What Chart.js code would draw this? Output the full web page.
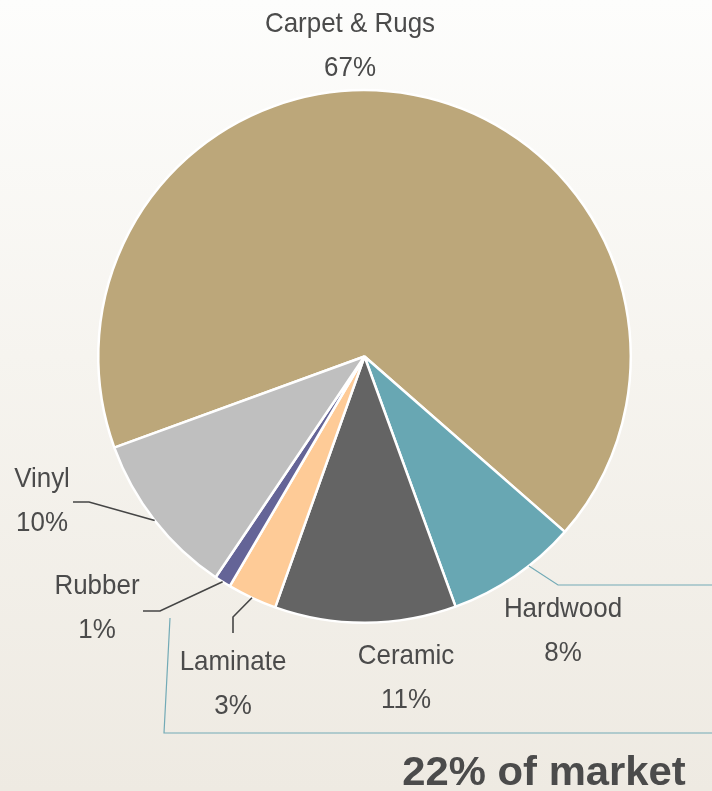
<!DOCTYPE html>
<html>
<head>
<meta charset="utf-8">
<script src="https://cdn.jsdelivr.net/npm/chart.js@4/dist/chart.umd.min.js"></script>
<style>
  html, body { margin: 0; padding: 0; }
  body {
    width: 712px; height: 791px; overflow: hidden;
    background: linear-gradient(to bottom, #fdfdfc 0%, #f6f4ef 45%, #eeeae2 100%);
  }
  #wrap { position: relative; width: 712px; height: 791px; }
</style>
</head>
<body>
<div id="wrap"><canvas id="c" width="712" height="791"></canvas></div>
<script>
// Flooring sales share by material
const categories = ['Carpet & Rugs', 'Hardwood', 'Ceramic', 'Laminate', 'Rubber', 'Vinyl'];
const shares = [67, 8, 11, 3, 1, 10];
const sliceColors = ['#bca77a', '#68a7b3', '#646464', '#fecb97', '#646497', '#bfbfbf'];
const headline = '22% of market';

const LABEL_FONT = '"Liberation Sans Narrow", "Arial Narrow", "Liberation Sans", sans-serif';
const TEXT_COLOR = '#4b4b4b';

// Where each label sits (name baseline; percent goes one line below),
// plus the elbow point of its leader line.
const labelLayout = {
  'Carpet & Rugs': { x: 350, y: 32, leader: null },
  'Hardwood':      { x: 563, y: 617, leader: null },
  'Ceramic':       { x: 406, y: 664, leader: null },
  'Laminate':      { x: 233, y: 670, leader: [[233, 633], [233, 617]] },
  'Rubber':        { x: 97,  y: 594, leader: [[143, 611], [160, 611]] },
  'Vinyl':         { x: 42,  y: 487, leader: [[73, 502], [89, 502]] }
};

function arcPoint(arc, frac) {
  const a = arc.startAngle + (arc.endAngle - arc.startAngle) * frac;
  return [arc.x + Math.cos(a) * arc.outerRadius, arc.y + Math.sin(a) * arc.outerRadius];
}

// condensed text: draw with a slight horizontal squeeze
function narrowText(ctx, text, x, y, squeeze) {
  ctx.save();
  ctx.translate(x, y);
  ctx.scale(squeeze, 1);
  ctx.fillText(text, 0, 0);
  ctx.restore();
}

const labelPlugin = {
  id: 'sliceLabels',
  afterDatasetsDraw(chart) {
    const ctx = chart.ctx;
    const arcs = chart.getDatasetMeta(0).data;
    ctx.save();

    // teal bracket grouping the lower slices
    const hw = arcs[categories.indexOf('Hardwood')];
    const hp = arcPoint(hw, 0.37);
    ctx.strokeStyle = '#72aab6';
    ctx.lineWidth = 1.2;
    ctx.beginPath();
    ctx.moveTo(hp[0], hp[1]);
    ctx.lineTo(558, 585);
    ctx.lineTo(712, 585);
    ctx.stroke();
    ctx.beginPath();
    ctx.moveTo(170, 618);
    ctx.lineTo(164, 733);
    ctx.lineTo(712, 733);
    ctx.stroke();

    // dark leader lines
    ctx.strokeStyle = '#454545';
    ctx.lineWidth = 1.6;
    categories.forEach((name, i) => {
      const lay = labelLayout[name];
      if (!lay.leader) return;
      const p = arcPoint(arcs[i], 0.5);
      ctx.beginPath();
      ctx.moveTo(p[0], p[1]);
      for (let k = lay.leader.length - 1; k >= 0; k--) ctx.lineTo(lay.leader[k][0], lay.leader[k][1]);
      ctx.stroke();
    });

    // names and percentages
    ctx.fillStyle = TEXT_COLOR;
    ctx.textAlign = 'center';
    ctx.textBaseline = 'alphabetic';
    ctx.font = '28.5px ' + LABEL_FONT;
    categories.forEach((name, i) => {
      const lay = labelLayout[name];
      narrowText(ctx, name, lay.x, lay.y, 0.91);
      narrowText(ctx, shares[i] + '%', lay.x, lay.y + 44, 0.91);
    });

    // headline
    ctx.font = 'bold 41px "Liberation Sans", Arial, sans-serif';
    narrowText(ctx, headline, 544, 785, 1.02);
    ctx.restore();
  }
};

new Chart(document.getElementById('c'), {
  type: 'pie',
  data: {
    labels: categories,
    datasets: [{
      data: shares,
      backgroundColor: sliceColors,
      borderColor: '#ffffff',
      borderWidth: 2.5
    }]
  },
  options: {
    responsive: false,
    animation: false,
    rotation: 250,
    layout: { padding: { left: 97, right: 80, top: 89, bottom: 167 } },
    plugins: {
      legend: { display: false },
      tooltip: { enabled: false }
    }
  },
  plugins: [labelPlugin]
});
</script>
</body>
</html>
